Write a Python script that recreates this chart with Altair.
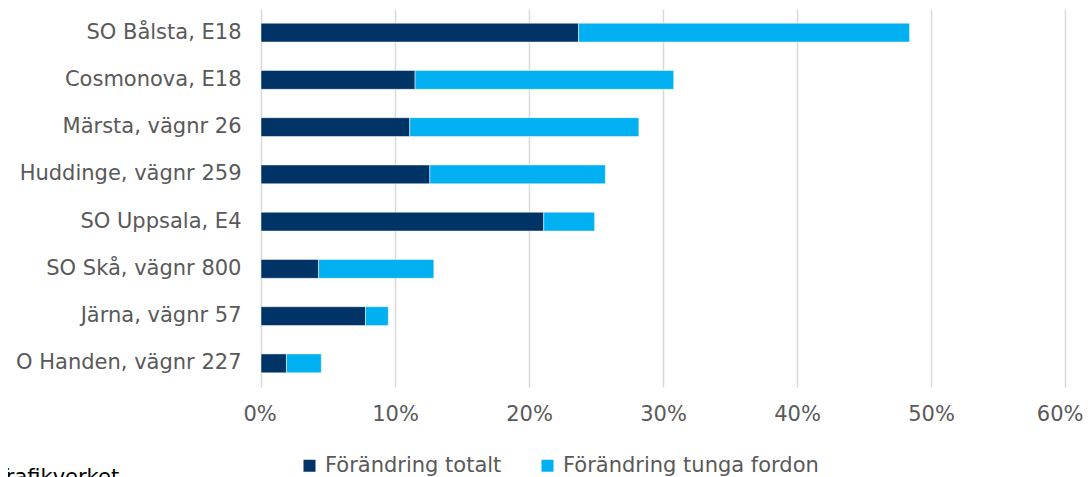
import altair as alt
import pandas as pd

categories = [
    "SO Bålsta, E18",
    "Cosmonova, E18",
    "Märsta, vägnr 26",
    "Huddinge, vägnr 259",
    "SO Uppsala, E4",
    "SO Skå, vägnr 800",
    "Järna, vägnr 57",
    "O Handen, vägnr 227",
]
series = ["Förändring totalt", "Förändring tunga fordon"]
totalt = [23.7, 11.5, 11.1, 12.6, 21.1, 4.3, 7.8, 1.9]
tunga = [24.7, 19.3, 17.1, 13.1, 3.8, 8.6, 1.7, 2.6]
colors = ["#003366", "#00B0F0"]
x_ticks = [0.0, 0.1, 0.2, 0.3, 0.4, 0.5, 0.6]
source_text = ["Trafikverket"]

rows = []
for i, c in enumerate(categories):
    rows.append({"kat": c, "serie": series[0], "v": totalt[i] / 100, "o": 0})
    rows.append({"kat": c, "serie": series[1], "v": tunga[i] / 100, "o": 1})
df = pd.DataFrame(rows)

FONT = "DejaVu Sans"
GREY = "#595959"

bars = alt.Chart(df).mark_bar(stroke="white", strokeWidth=1, strokeOpacity=0.5).encode(
    y=alt.Y(
        "kat:N",
        sort=categories,
        title=None,
        scale=alt.Scale(paddingInner=0.6, paddingOuter=0.3),
        axis=alt.Axis(
            labelFontSize=21,
            labelColor=GREY,
            labelFont=FONT,
            ticks=False,
            domain=False,
            grid=False,
            labelPadding=20,
            labelLimit=400,
        ),
    ),
    x=alt.X(
        "v:Q",
        stack="zero",
        title=None,
        scale=alt.Scale(domain=[0, 0.6], nice=False),
        axis=alt.Axis(
            values=x_ticks,
            format=".0%",
            grid=True,
            gridColor="#D9D9D9",
            gridWidth=1.5,
            domain=False,
            ticks=False,
            labelFontSize=21,
            labelColor=GREY,
            labelFont=FONT,
            labelPadding=16,
            labelFlush=True,
            labelFlushOffset=18,
        ),
    ),
    color=alt.Color(
        "serie:N",
        scale=alt.Scale(domain=series, range=colors),
        legend=alt.Legend(
            title=None,
            orient="none",
            legendX=38,
            legendY=446,
            direction="horizontal",
            symbolType="square",
            symbolSize=144,
            symbolStrokeWidth=0,
            labelFontSize=21,
            labelColor=GREY,
            labelFont=FONT,
            labelLimit=500,
            columnPadding=35,
            labelOffset=5,
            padding=0,
        ),
    ),
    order=alt.Order("o:Q"),
)

txt = alt.Chart(pd.DataFrame({"t": source_text})).mark_text(
    align="left", baseline="alphabetic", fontSize=21, font=FONT, color="black"
).encode(text="t:N", x=alt.value(-265), y=alt.value(475))

chart = (
    alt.layer(bars, txt)
    .properties(
        width=804,
        height=378,
        padding={"left": 253, "top": 1, "right": 18, "bottom": 99},
        autosize=alt.AutoSizeParams(type="none"),
    )
    .configure_view(stroke=None)
)

chart.save("out.html", embed_options={"renderer": "svg", "actions": False})
